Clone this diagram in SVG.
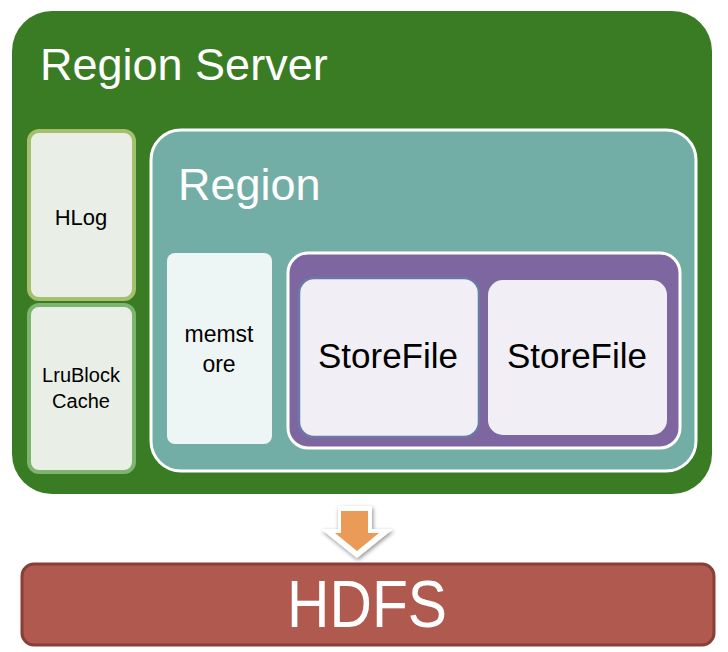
<svg xmlns="http://www.w3.org/2000/svg" width="728" height="652" viewBox="0 0 728 652">
<defs>
<style>
text{font-family:"Liberation Sans",Arial,sans-serif}
.w{fill:#ffffff}
.b{fill:#000000;text-anchor:middle}
</style>
<filter id="sh" x="-30%" y="-30%" width="160%" height="160%">
<feGaussianBlur in="SourceAlpha" stdDeviation="2"/>
<feOffset dx="1" dy="2" result="o"/>
<feComponentTransfer><feFuncA type="linear" slope="0.45"/></feComponentTransfer>
<feMerge><feMergeNode/><feMergeNode in="SourceGraphic"/></feMerge>
</filter>
</defs>
<rect width="728" height="652" fill="#ffffff"/>
<g id="region-server">
<rect x="12" y="11" width="700" height="483" rx="40" fill="#3a7c24"/>
<text class="w" x="40" y="80" font-size="45">Region Server</text>
</g>
<g id="hlog">
<rect x="29" y="131" width="105" height="168" rx="10" fill="#e9efe6" stroke="#a6bf6c" stroke-width="4"/>
<text class="b" x="81" y="225" font-size="22">HLog</text>
</g>
<g id="lrublockcache">
<rect x="29" y="305" width="105" height="167" rx="10" fill="#e9efe6" stroke="#7db56f" stroke-width="4"/>
<text class="b" x="81" y="382" font-size="20">LruBlock</text>
<text class="b" x="81" y="408" font-size="20">Cache</text>
</g>
<g id="region">
<rect x="151" y="130" width="545" height="341" rx="30" fill="#72aea6" stroke="#ffffff" stroke-width="3"/>
<text class="w" x="178" y="200" font-size="45">Region</text>
</g>
<g id="memstore">
<rect x="167" y="253" width="105" height="191" rx="8" fill="#eef5f5"/>
<text class="b" x="219" y="342" font-size="23">memst</text>
<text class="b" x="219" y="372" font-size="23">ore</text>
</g>
<g id="store">
<rect x="288" y="253" width="392" height="195" rx="20" fill="#7e67a0" stroke="#ffffff" stroke-width="3"/>
</g>
<g id="storefile1">
<rect x="299" y="278" width="180" height="159" rx="15" fill="#f1eff5" stroke="#6b79a6" stroke-width="2.5"/>
<text class="b" x="388" y="368" font-size="35">StoreFile</text>
</g>
<g id="storefile2">
<rect x="488" y="280" width="179" height="155" rx="15" fill="#f1eff5"/>
<text class="b" x="577" y="368" font-size="35">StoreFile</text>
</g>
<g id="connectors">
<polygon points="338,506 372,506 372,529 393,529 357,558 321,529 338,529" fill="#ffffff" filter="url(#sh)"/>
<polygon points="341,511 368,511 368,533 379,533 357,551 335,533 341,533" fill="#e99b57"/>
</g>
<g id="hdfs">
<rect x="22" y="564" width="692" height="81" rx="12" fill="#b0594f" stroke="#873f38" stroke-width="3"/>
<text class="w" x="367" y="627" font-size="66" text-anchor="middle" textLength="160" lengthAdjust="spacingAndGlyphs">HDFS</text>
</g>
</svg>
